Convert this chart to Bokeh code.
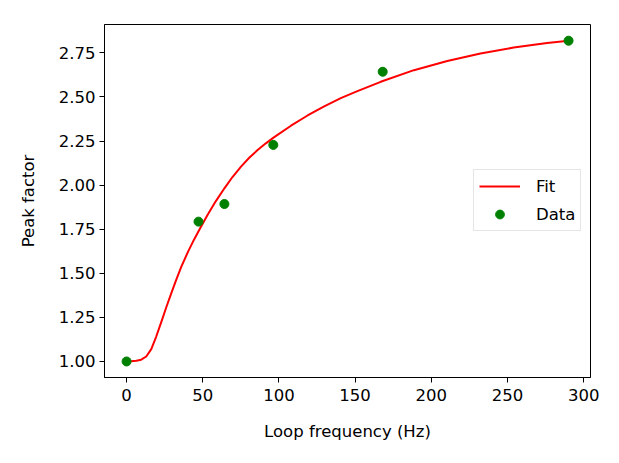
from bokeh.plotting import figure
from bokeh.models import FixedTicker, PrintfTickFormatter, Range1d, Legend, LegendItem
from bokeh.embed import file_html
from bokeh.resources import INLINE

# Measured data points
freq = [0.0, 47.2, 64.2, 96.3, 168.1, 290.1]
peak = [1.00, 1.793, 1.893, 2.228, 2.643, 2.819]

# Fit curve
fit_x = [0.0, 3.0, 6.4, 9.6, 12.9, 16.2, 19.4, 22.7, 26.0, 29.3, 32.5, 35.8,
         40.2, 44.5, 48.9, 53.3, 58.5, 64.2, 69.5, 75.1, 80.5, 86.0, 91.4,
         96.9, 107.9, 118.8, 129.7, 140.6, 151.5, 166.8, 188.6, 210.5, 232.3,
         254.1, 276.0, 290.1]
fit_y = [1.000, 1.001, 1.004, 1.010, 1.028, 1.070, 1.140, 1.222, 1.306, 1.386,
         1.461, 1.535, 1.620, 1.695, 1.765, 1.833, 1.908, 1.982, 2.046, 2.105,
         2.155, 2.199, 2.237, 2.272, 2.337, 2.395, 2.447, 2.493, 2.533, 2.586,
         2.652, 2.704, 2.746, 2.780, 2.806, 2.819]

x_ticks = [0, 50, 100, 150, 200, 250, 300]
y_ticks = [1.00, 1.25, 1.50, 1.75, 2.00, 2.25, 2.50, 2.75]

FONT = "DejaVu Sans"
FS = "16.5px"

p = figure(width=611, height=455, output_backend="svg", toolbar_location=None,
           x_range=Range1d(-14.5, 304.5), y_range=Range1d(0.909, 2.911),
           min_border_left=104, min_border_right=21, min_border_top=24,
           min_border_bottom=78)
p.background_fill_color = "white"
p.border_fill_color = "white"
p.outline_line_color = "black"
p.outline_line_width = 1
p.grid.visible = False

fit_r = p.line(fit_x, fit_y, line_color="red", line_width=2)
dat_r = p.scatter(freq, peak, size=9, fill_color="green", line_color="green")

for ax in (p.xaxis[0], p.yaxis[0]):
    ax.axis_line_color = "black"
    ax.major_tick_line_color = "black"
    ax.major_tick_in = 0
    ax.major_tick_out = 5
    ax.minor_tick_line_color = None
    ax.major_label_text_font = FONT
    ax.major_label_text_font_size = FS
    ax.major_label_text_color = "black"
    ax.axis_label_text_font = FONT
    ax.axis_label_text_font_size = FS
    ax.axis_label_text_font_style = "normal"
    ax.axis_label_text_color = "black"

p.xaxis.ticker = FixedTicker(ticks=x_ticks)
p.yaxis.ticker = FixedTicker(ticks=y_ticks)
p.yaxis.formatter = PrintfTickFormatter(format="%.2f")
p.xaxis.axis_label = "Loop frequency (Hz)"
p.yaxis.axis_label = "Peak factor"
p.xaxis.major_label_standoff = 6
p.yaxis.major_label_standoff = 4
p.xaxis.axis_label_standoff = 18
p.yaxis.axis_label_standoff = 18

legend = Legend(items=[LegendItem(label="Fit", renderers=[fit_r]),
                       LegendItem(label="Data", renderers=[dat_r])],
                location=(369, 146))
legend.label_text_font = FONT
legend.label_text_font_size = FS
legend.label_text_color = "black"
legend.glyph_width = 41
legend.glyph_height = 22
legend.label_height = 17
legend.label_standoff = 16
legend.spacing = 6
legend.padding = 5
legend.margin = 0
legend.border_line_color = "#cccccc"
legend.border_line_width = 1
legend.background_fill_color = "white"
legend.background_fill_alpha = 0.8
p.add_layout(legend)

open("out.html", "w").write(file_html(p, INLINE))
